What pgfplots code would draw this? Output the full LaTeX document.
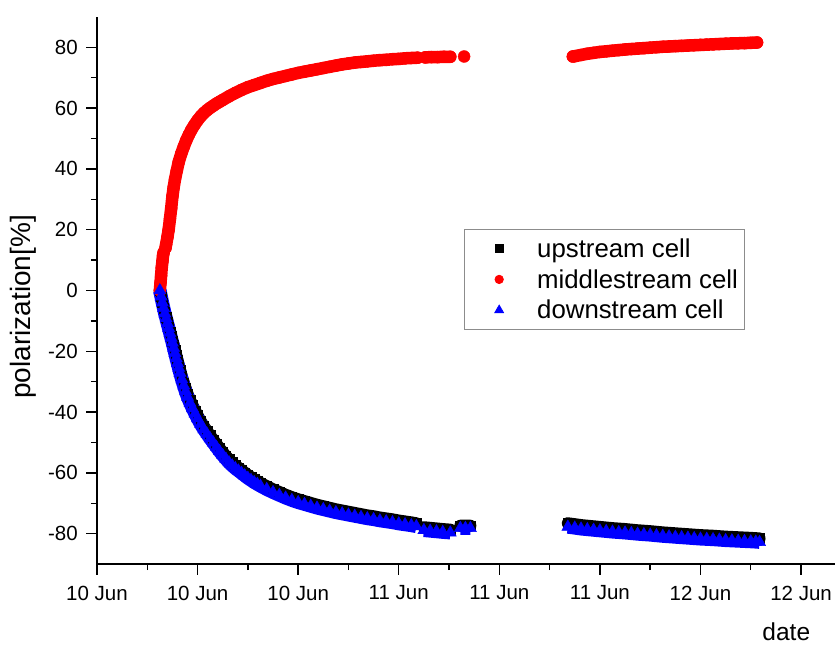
\documentclass[border=0pt]{standalone}
\usepackage{fontspec}
\setmainfont{Liberation Sans}
\usepackage{pgfplots}
\pgfplotsset{compat=1.18}
\usepackage{pgfplotstable}

\pgfplotstableread{
t y
5.00 0
5.10 -2
5.20 -4
5.30 -5.8
5.40 -7.1
5.50 -8.7
5.60 -10.3
5.70 -11.9
5.80 -13.5
5.90 -15.1
6.00 -16.7
6.10 -17.9
6.20 -19.6
6.30 -21.3
6.40 -22.9
6.50 -24.5
6.60 -26.1
6.75 -28.3
6.90 -30.3
7.05 -32.2
7.20 -34.0
7.40 -36.0
7.60 -37.8
7.80 -39.5
8.00 -41.1
8.25 -43.0
8.50 -44.7
8.75 -46.2
9.00 -47.7
9.25 -49.1
9.50 -50.5
9.75 -51.9
10.00 -53.2
10.25 -54.4
10.50 -55.6
10.75 -56.6
11.00 -57.5
11.25 -58.3
11.50 -59.1
11.75 -59.9
12.00 -60.7
12.25 -61.4
12.50 -62.1
12.75 -62.7
13.00 -63.3
13.50 -64.4
14.00 -65.4
14.50 -66.3
15.00 -67.2
15.50 -68.0
16.00 -68.7
16.50 -69.3
17.00 -69.9
17.50 -70.5
18.00 -71.0
18.50 -71.5
19.00 -72.0
19.50 -72.4
20.00 -72.8
20.50 -73.2
21.00 -73.6
21.50 -74.0
22.00 -74.3
22.50 -74.7
23.00 -75.0
23.50 -75.3
24.00 -75.7
24.50 -76.0
25.00 -76.3
25.40 -76.6
nan nan
26.00 -77.9
26.50 -78.1
27.00 -78.3
27.50 -78.5
28.10 -78.7
nan nan
28.90 -77.4
29.30 -77.4
29.70 -77.4
nan nan
37.45 -76.6
38.00 -76.9
38.50 -77.2
39.00 -77.4
39.50 -77.6
40.00 -77.8
40.50 -78.0
41.00 -78.2
41.50 -78.35
42.00 -78.5
42.50 -78.7
43.00 -78.9
43.50 -79.05
44.00 -79.2
44.50 -79.4
45.00 -79.6
45.50 -79.75
46.00 -79.9
46.50 -80.05
47.00 -80.2
47.50 -80.35
48.00 -80.5
48.50 -80.6
49.00 -80.7
49.50 -80.85
50.00 -81.0
50.50 -81.1
51.00 -81.2
51.50 -81.3
52.00 -81.4
52.40 -81.5
52.70 -81.6
}\upstream

\pgfplotstableread{
t y
5.00 0
5.05 2.5
5.10 5
5.15 7.5
5.20 9.5
5.25 11.5
5.30 12.5
nan nan
5.45 14.0
5.50 15.2
5.60 17.5
5.70 20.0
5.80 23.5
5.90 27.0
6.00 31.0
6.10 34.0
6.20 36.5
6.35 39.5
6.50 42.3
6.70 45.0
6.90 47.3
7.10 49.4
7.30 51.2
7.50 52.8
7.75 54.5
8.00 56.0
8.25 57.3
8.50 58.4
8.75 59.3
9.00 60.1
9.25 60.8
9.50 61.5
9.75 62.1
10.00 62.7
10.50 63.9
11.00 65.0
11.50 66.0
12.00 66.9
12.50 67.6
13.00 68.3
13.50 69.0
14.00 69.6
14.50 70.1
15.00 70.6
15.50 71.1
16.00 71.6
16.50 72.0
17.00 72.4
17.50 72.8
18.00 73.2
18.50 73.6
19.00 74.0
19.50 74.4
20.00 74.7
20.50 75.0
21.00 75.2
21.50 75.4
22.00 75.6
22.50 75.8
23.00 75.9
23.50 76.1
24.00 76.2
24.50 76.4
25.00 76.5
25.50 76.6
nan nan
26.10 76.7
26.60 76.8
27.10 76.8
27.60 76.9
28.10 76.9
nan nan
29.20 77.0
nan nan
37.85 77.0
38.00 77.1
38.50 77.5
39.00 77.9
39.50 78.2
40.00 78.5
40.50 78.7
41.00 78.9
41.50 79.1
42.00 79.3
42.50 79.45
43.00 79.6
43.50 79.75
44.00 79.9
44.50 80.05
45.00 80.2
45.50 80.3
46.00 80.4
46.50 80.5
47.00 80.6
47.50 80.7
48.00 80.8
48.50 80.9
49.00 81.0
49.50 81.1
50.00 81.2
50.50 81.3
51.00 81.35
51.50 81.4
52.00 81.5
52.50 81.6
}\middlestream

\pgfplotstableread{
t y
5.00 0
5.10 -2
5.20 -4
5.30 -5.8
5.40 -7.6
5.50 -9.2
5.60 -10.8
5.70 -12.4
5.80 -14.0
5.90 -15.6
6.00 -17.2
6.10 -18.9
6.20 -20.6
6.30 -22.3
6.40 -23.9
6.50 -25.5
6.60 -27.1
6.75 -29.3
6.90 -31.3
7.05 -33.2
7.20 -35.0
7.40 -37.0
7.60 -38.8
7.80 -40.5
8.00 -42.1
8.25 -44.0
8.50 -45.7
8.75 -47.2
9.00 -48.7
9.25 -50.1
9.50 -51.5
9.75 -52.9
10.00 -54.2
10.25 -55.4
10.50 -56.6
10.75 -57.6
11.00 -58.5
11.25 -59.3
11.50 -60.1
11.75 -60.9
12.00 -61.7
12.25 -62.4
12.50 -63.1
12.75 -63.7
13.00 -64.3
13.50 -65.4
14.00 -66.4
14.50 -67.3
15.00 -68.2
15.50 -69.0
16.00 -69.7
16.50 -70.3
17.00 -70.9
17.50 -71.5
18.00 -72.0
18.50 -72.5
19.00 -73.0
19.50 -73.4
20.00 -73.8
20.50 -74.2
21.00 -74.6
21.50 -75.0
22.00 -75.3
22.50 -75.7
23.00 -76.0
23.50 -76.3
24.00 -76.7
24.50 -77.0
25.00 -77.3
25.40 -77.6
nan nan
26.00 -78.9
26.50 -79.1
27.00 -79.3
27.50 -79.5
28.10 -79.7
nan nan
28.90 -78.2
29.30 -78.2
29.70 -78.2
nan nan
37.45 -77.8
38.00 -78.1
38.50 -78.4
39.00 -78.6
39.50 -78.8
40.00 -79.0
40.50 -79.2
41.00 -79.4
41.50 -79.55
42.00 -79.7
42.50 -79.9
43.00 -80.1
43.50 -80.25
44.00 -80.4
44.50 -80.6
45.00 -80.8
45.50 -80.95
46.00 -81.1
46.50 -81.25
47.00 -81.4
47.50 -81.55
48.00 -81.7
48.50 -81.8
49.00 -81.9
49.50 -82.05
50.00 -82.2
50.50 -82.3
51.00 -82.4
51.50 -82.5
52.00 -82.6
52.40 -82.7
52.70 -82.8
}\downstream

\begin{document}
\begin{tikzpicture}
\begin{axis}[
  at={(97pt,81pt)}, anchor=south west,
  scale only axis, width=738pt, height=547pt,
  xmin=0, xmax=58.7, ymin=-90, ymax=90,
  axis lines=left, axis line style={-, line width=1.4pt, black},
  tick align=outside,
  major tick length=10.5pt, minor tick length=6pt,
  every tick/.style={line width=1.4pt, black},
  xtick={0,8,16,24,32,40,48,56},
  xticklabels={10 Jun,10 Jun,10 Jun,11 Jun,11 Jun,11 Jun,12 Jun,12 Jun},
  minor x tick num=1,
  ytick={-80,-60,-40,-20,0,20,40,60,80},
  yticklabels={-80,-60,-40,-20,0,20,40,60,80},
  minor y tick num=1,
  ticklabel style={font=\fontsize{20.5}{24}\selectfont, inner sep=0pt},
  yticklabel shift=8.5pt,
  xticklabel shift=11pt,
  xlabel={date}, ylabel={polarization[\%]},
  xlabel style={at={([yshift=-76pt]axis description cs:0.934,0)}, anchor=base, inner sep=0pt, font=\fontsize{24.5}{28}\selectfont},
  ylabel style={at={([xshift=-66pt]axis description cs:0,0.47)}, anchor=base, inner sep=0pt, font=\fontsize{28}{32}\selectfont},
  unbounded coords=jump,
  clip=false,
  legend cell align=left,
  legend style={at={(0.497,0.612)}, anchor=north west, draw=black!45, line width=0.8pt,
    font=\fontsize{25.8}{30}\selectfont, inner xsep=6pt, inner ysep=9pt, row sep=10.5pt,
    nodes={inner sep=0pt}, cells={anchor=west}},
  legend image code/.code={\path[draw=none, fill=none] (0pt,-6pt) rectangle (67pt,6pt); \draw[#1] plot coordinates {(29pt,0pt)};},
]
\addplot[forget plot, no markers, black, line width=12pt, line cap=round, line join=round] table[x=t, y=y] {\upstream};
\addplot[only marks, mark=square*, mark size=4.8pt, mark options={draw=black, fill=black}, legend image post style={mark size=4pt}] table[x=t, y=y] {\upstream};
\addlegendentry{upstream cell}
\addplot[forget plot, no markers, red, line width=12.5pt, line cap=round, line join=round] table[x=t, y=y] {\middlestream};
\addplot[only marks, mark=*, mark size=6pt, mark options={draw=red, fill=red}, legend image post style={mark size=4.2pt}] table[x=t, y=y] {\middlestream};
\addlegendentry{middlestream cell}
\addplot[forget plot, no markers, blue, line width=13.5pt, line cap=butt, line join=round] table[x=t, y=y] {\downstream};
\addplot[only marks, mark=triangle*, mark size=7pt, mark options={draw=blue, fill=blue}, legend image post style={mark size=5pt}] table[x=t, y=y] {\downstream};
\addlegendentry{downstream cell}
\end{axis}
\pgfresetboundingbox
\path[use as bounding box] (0,0) rectangle (835pt,645pt);
\end{tikzpicture}
\end{document}
